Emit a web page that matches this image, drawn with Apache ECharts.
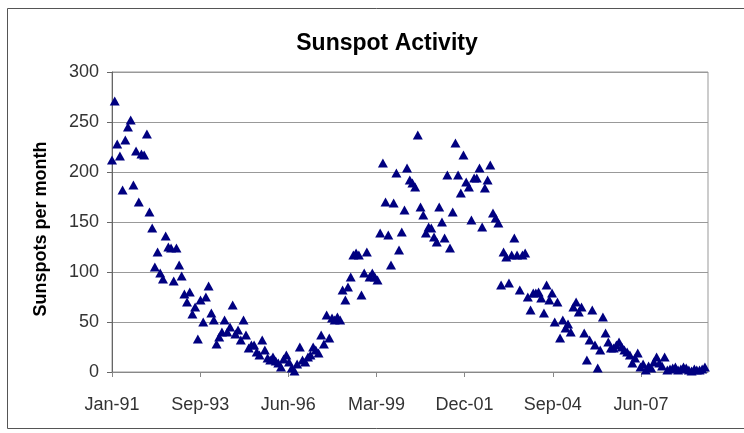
<!DOCTYPE html>
<html>
<head>
<meta charset="utf-8">
<script src="https://cdn.jsdelivr.net/npm/echarts@6/dist/echarts.min.js"></script>
<style>
  html, body { margin: 0; padding: 0; background: #fff; }
  #chart { width: 744px; height: 433px; }
</style>
</head>
<body>
<div id="chart"></div>
<script>
// monthly sunspot numbers, Jan 1991 onwards
var startYear = 1991;
var sunspots = [
  212, 271, 228, 216, 182, 232, 245, 252, 187, 221, 170, 218,
  217, 238, 160, 144, 105, 120, 99, 93, 136, 125, 124, 91,
  124, 107, 96, 78, 70, 80, 58, 65, 33, 72, 50, 75,
  86, 59, 52, 28, 35, 40, 52, 40, 45, 67, 38, 42,
  32, 52, 37, 24, 27, 27, 20, 17, 32, 22, 14, 12,
  15, 11, 9, 5, 13, 17, 10, 4, 1, 8, 25, 12,
  10, 15, 17, 25, 22, 19, 37, 28, 57, 34, 54, 52,
  55, 52, 82, 72, 85, 95, 117, 119, 117, 77, 99, 120,
  95, 99, 95, 92, 139, 209, 170, 137, 107, 169, 199, 122,
  140, 162, 204, 192, 189, 185, 237, 165, 157, 139, 145, 144,
  135, 130, 165, 150, 134, 197, 124, 160, 229, 197, 179, 217,
  190, 185, 152, 194, 194, 204, 145, 184, 192, 207, 159, 154,
  149, 87, 120, 115, 89, 117, 134, 117, 82, 117, 119, 75,
  62, 79, 79, 80, 74, 59, 87, 72, 79, 50, 70, 34,
  52, 44, 48, 40, 65, 70, 60, 65, 39, 12, 32, 62,
  27, 4, 22, 55, 39, 30, 24, 24, 27, 30, 25, 22,
  20, 17, 9, 14, 19, 5, 8, 2, 6, 4, 10, 15,
  9, 6, 15, 2, 3, 4, 5, 2, 3, 5, 4, 2,
  1, 3, 2, 2, 3, 5
];
var yTicks = [0, 50, 100, 150, 200, 250, 300];
var monthNames = ['Jan', 'Feb', 'Mar', 'Apr', 'May', 'Jun', 'Jul', 'Aug', 'Sep', 'Oct', 'Nov', 'Dec'];

var DAY = 86400000;
var origin = Date.UTC(startYear, 0, 1);

// x = days since 1-Jan-1991 (date axis, major unit 1000 days)
var points = sunspots.map(function (v, i) {
  var t = Date.UTC(startYear, i, 1);
  return [(t - origin) / DAY, v];
});

function dayLabel(d) {
  if (d % 1000 !== 0) return '';
  var dt = new Date(origin + d * DAY);
  var yy = String(dt.getUTCFullYear() % 100);
  if (yy.length < 2) yy = '0' + yy;
  return monthNames[dt.getUTCMonth()] + '-' + yy;
}

var myChart = echarts.init(document.getElementById('chart'));
var option = {
  backgroundColor: '#fff',
  animation: false,
  textStyle: { fontFamily: 'Liberation Sans, Arial, sans-serif' },
  title: {
    text: 'Sunspot Activity',
    left: 382,
    textAlign: 'center',
    top: 27,
    textStyle: { fontSize: 23, fontWeight: 'bold', color: '#000' }
  },
  graphic: [{
    type: 'rect',
    shape: { x: 7.5, y: 8.5, width: 740, height: 420 },
    style: { fill: null, stroke: '#555', lineWidth: 1 },
    silent: true
  }],
  grid: {
    left: 112, right: 36, top: 72, bottom: 61,
    show: true, borderColor: '#999', borderWidth: 1
  },
  xAxis: {
    type: 'value',
    min: 0,
    max: 6761,
    interval: 1000,
    splitLine: { show: false },
    axisLine: { show: true, lineStyle: { color: '#888' } },
    axisTick: { show: true, length: 5, lineStyle: { color: '#888' } },
    axisLabel: {
      formatter: dayLabel,
      showMaxLabel: false,
      color: '#333',
      fontSize: 18,
      margin: 24
    }
  },
  yAxis: {
    type: 'value',
    min: yTicks[0],
    max: yTicks[yTicks.length - 1],
    interval: 50,
    name: 'Sunspots per month',
    nameLocation: 'middle',
    nameRotate: 90,
    nameGap: 62,
    nameTextStyle: { fontSize: 18, fontWeight: 'bold', color: '#000', padding: [0, 14, 0, 0] },
    splitLine: { show: true, lineStyle: { color: '#999', width: 1 } },
    axisLine: { show: true, lineStyle: { color: '#666' } },
    axisTick: { show: true, length: 5, lineStyle: { color: '#666' } },
    axisLabel: { color: '#333', fontSize: 18, margin: 13 }
  },
  series: [{
    type: 'scatter',
    data: points,
    symbol: 'triangle',
    symbolSize: [10, 9],
    itemStyle: { color: '#000080', opacity: 1 }
  }]
};
option && myChart.setOption(option);
</script>
</body>
</html>
